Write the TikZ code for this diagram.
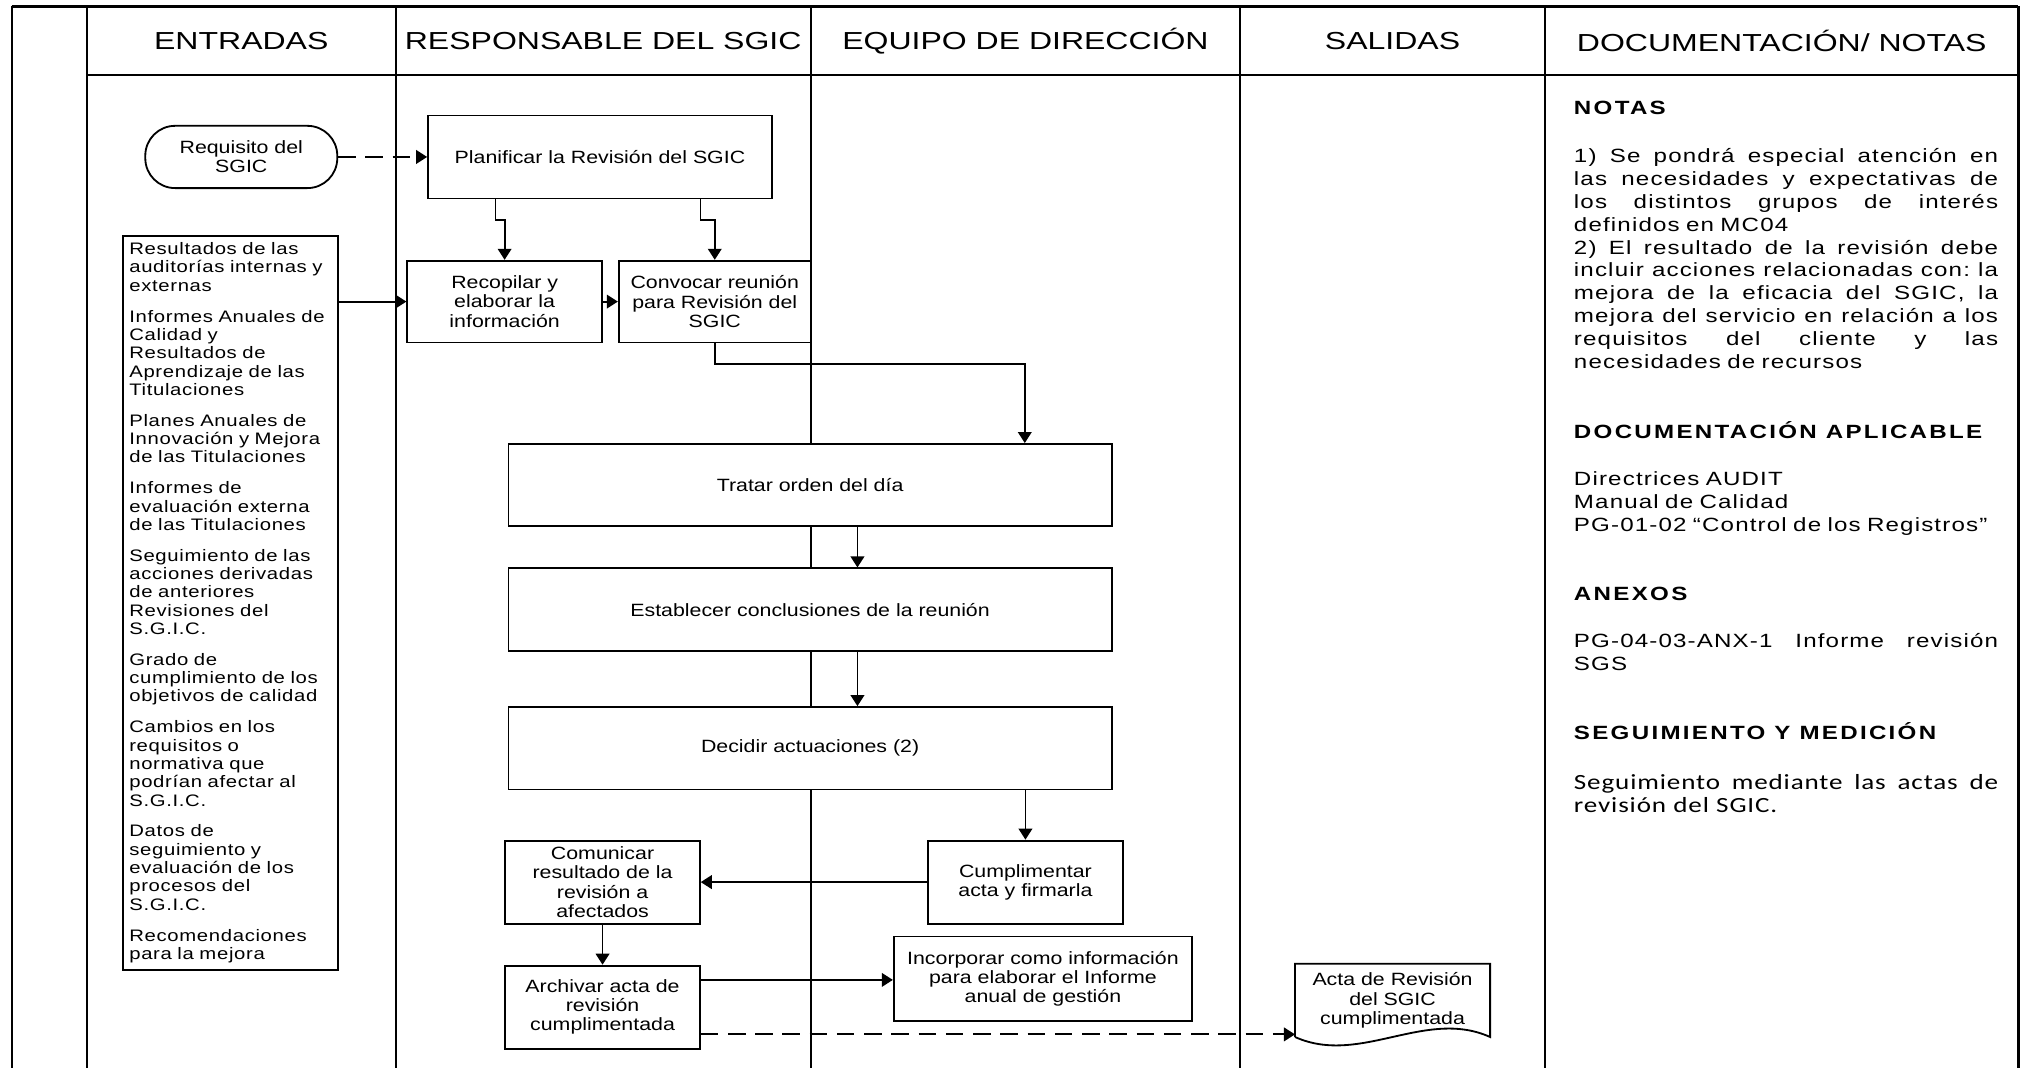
\documentclass[tikz,border=0pt]{standalone}
\usepackage{fontspec}
\setmainfont{Liberation Sans}
\newfontfamily\sgichead{Liberation Sans}[FakeStretch=1.3]
\newfontfamily\sgicbox{Liberation Sans}[FakeStretch=1.2]
\newfontfamily\sgiclist{Liberation Sans}[FakeStretch=1.22,LetterSpace=4]
\newfontfamily\sgicnote{Liberation Sans}[FakeStretch=1.26,LetterSpace=6]
\newfontfamily\sgichd{Liberation Sans}[FakeStretch=1.26,LetterSpace=12]
\newfontfamily\sgiccal{Carlito}[FakeStretch=1.25,LetterSpace=4]
\usetikzlibrary{arrows.meta,positioning}
\newcommand{\jl}[1]{{\spaceskip=\fontdimen2\font plus 1fil\xspaceskip=\spaceskip\makebox[6.54cm][s]{#1}}}

\begin{document}
\begin{tikzpicture}[
    lane/.style={line width=1pt},
    box/.style={rectangle, draw, fill=white, line width=0.8pt, align=center, inner sep=1pt,
        font=\sgicbox\fontsize{7.8}{8.4}\selectfont},
    wide/.style={box, minimum width=9.30cm, minimum height=1.27cm},
    small/.style={box, minimum width=3.00cm, minimum height=1.28cm},
    term/.style={box, rounded corners=0.46cm, minimum width=2.96cm, minimum height=0.96cm},
    head/.style={font=\sgichead\fontsize{10.8}{12}\selectfont},
    note/.style={anchor=base west, inner sep=0pt, text width=6.54cm, align=left,
        font=\sgicnote\fontsize{8.4}{10.05}\selectfont},
    notehd/.style={anchor=base west, inner sep=0pt, font=\sgichd\bfseries\fontsize{8.4}{10}\selectfont},
    arr/.style={-{Triangle[length=0.17cm,width=0.21cm]}, line width=0.8pt},
    dasharr/.style={arr, dash pattern=on 0.27cm off 0.15cm}
]
    \useasboundingbox (0,0) rectangle (31.36,-16.46);

    % swimlanes
    \draw[lane] (0.18,-0.10) -- (31.12,-0.10);
    \draw[lane] (1.34,-1.16) -- (31.12,-1.16);
    \foreach \x in {0.18,1.34,6.10,12.50,19.12,23.82,31.12}
        \draw[lane] (\x,-0.10) -- (\x,-16.46);

    \node[head] (hentr) at (3.72,-0.63) {ENTRADAS};
    \node[head] (hresp) at (9.30,-0.63) {RESPONSABLE DEL SGIC};
    \node[head] (hequi) at (15.81,-0.63) {EQUIPO DE DIRECCIÓN};
    \node[head] (hsali) at (21.47,-0.63) {SALIDAS};
    \node[head] (hdocu) at (27.47,-0.63) {DOCUMENTACIÓN/ NOTAS};

    % entradas
    \node[term] (req) at (3.72,-2.42) {Requisito del\\SGIC};
    \node[draw, line width=0.8pt, anchor=north west, text width=3.12cm, align=left,
        inner xsep=0.1cm, inner ysep=3pt, font=\sgiclist\fontsize{7.3}{8.06}\selectfont]
        (list) at (1.88,-3.62) {Resultados de las\\auditorías internas y\\externas\\[5.4pt]
        Informes Anuales de\\Calidad y\\Resultados de\\Aprendizaje de las\\Titulaciones\\[5.4pt]
        Planes Anuales de\\Innovación y Mejora\\de las Titulaciones\\[5.4pt]
        Informes de\\evaluación externa\\de las Titulaciones\\[5.4pt]
        Seguimiento de las\\acciones derivadas\\de anteriores\\Revisiones del\\S.G.I.C.\\[5.4pt]
        Grado de\\cumplimiento de los\\objetivos de calidad\\[5.4pt]
        Cambios en los\\requisitos o\\normativa que\\podrían afectar al\\S.G.I.C.\\[5.4pt]
        Datos de\\seguimiento y\\evaluación de los\\procesos del\\S.G.I.C.\\[5.4pt]
        Recomendaciones\\para la mejora};

    % proceso
    \node[box, minimum width=5.30cm, minimum height=1.28cm] (plan) at (9.25,-2.42) {Planificar la Revisión del SGIC};
    \node[box, minimum width=3.00cm, minimum height=1.26cm] (recop) at (7.78,-4.65) {Recopilar y\\elaborar la\\información};
    \node[box, minimum width=2.96cm, minimum height=1.26cm] (conv) at (11.02,-4.65) {Convocar reunión\\para Revisión del\\SGIC};
    \node[wide] (trat) at (12.49,-7.48) {Tratar orden del día};
    \node[wide, below=0.62cm of trat] (estab) {Establecer conclusiones de la reunión};
    \node[wide, below=0.84cm of estab] (decid) {Decidir actuaciones (2)};
    \node[small] (cumpl) at (15.81,-13.60) {Cumplimentar\\acta y firmarla};
    \node[small] (comun) at (9.29,-13.60) {Comunicar\\resultado de la\\revisión a\\afectados};
    \node[small, below=0.62cm of comun] (arch) {Archivar acta de\\revisión\\cumplimentada};
    \node[box, minimum width=4.60cm, minimum height=1.30cm] (incorp) at (16.08,-15.09) {Incorporar como información\\para elaborar el Informe\\anual de gestión};

    % salidas
    \node[box, draw=none, fill=none, minimum width=2.98cm, minimum height=1.10cm, anchor=north] (acta) at (21.47,-14.86) {Acta de Revisión\\del SGIC\\cumplimentada};
    \draw[line width=0.8pt] (acta.south west) -- (acta.north west) -- (acta.north east) -- (acta.south east)
        .. controls +(-1.0,0.45) and +(1.0,-0.45) .. (acta.south west);

    \coordinate (archout) at ([yshift=0.42cm]arch.east);
    \coordinate (archdash) at ([yshift=-0.42cm]arch.east);

    \draw[dasharr] (req.east) -- (plan.west);
    \draw[arr] ([xshift=-1.61cm]plan.south) -- ++(0,-0.32) -| (recop.north);
    \draw[arr] ([xshift=1.55cm]plan.south) -- ++(0,-0.32) -| (conv.north);
    \draw[arr] (list.east |- recop) -- (recop.west);
    \draw[arr] (recop.east) -- (conv.west);
    \draw[arr] (conv.south) -- ++(0,-0.32) -| ([xshift=3.31cm]trat.north);
    \draw[arr] ([xshift=0.73cm]trat.south) -- ([xshift=0.73cm]estab.north);
    \draw[arr] ([xshift=0.73cm]estab.south) -- ([xshift=0.73cm]decid.north);
    \draw[arr] (decid.south -| cumpl.north) -- (cumpl.north);
    \draw[arr] (cumpl.west) -- (comun.east);
    \draw[arr] (comun.south) -- (arch.north);
    \draw[arr] (archout) -- (archout -| incorp.west);
    \draw[dasharr] (archdash) -- (archdash -| acta.west);

    % notas
    \node[notehd] (notas) at (24.26,-1.764) {NOTAS};
    \node[note] (notastxt) at (24.26,-2.504) {\jl{1) Se pondrá especial atención en}\\
        \jl{las necesidades y expectativas de}\\
        \jl{los distintos grupos de interés}\\
        definidos en MC04\\
        \jl{2) El resultado de la revisión debe}\\
        \jl{incluir acciones relacionadas con: la}\\
        \jl{mejora de la eficacia del SGIC, la}\\
        \jl{mejora del servicio en relación a los}\\
        \jl{requisitos del cliente y las}\\
        necesidades de recursos};
    \node[notehd] (docap) at (24.26,-6.764) {DOCUMENTACIÓN APLICABLE};
    \node[note] (doctxt) at (24.26,-7.484) {Directrices AUDIT\\Manual de Calidad\\PG-01-02 “Control de los Registros”};
    \node[notehd] (anex) at (24.26,-9.264) {ANEXOS};
    \node[note] (anextxt) at (24.26,-9.984) {\jl{PG-04-03-ANX-1 Informe revisión}\\SGS};
    \node[notehd] (segu) at (24.26,-11.404) {SEGUIMIENTO Y MEDICIÓN};
    \node[note, font=\sgiccal\fontsize{9.5}{10.2}\selectfont] (segutxt) at (24.26,-12.168) {\jl{Seguimiento mediante las actas de}\\revisión del SGIC.};
\end{tikzpicture}
\end{document}
